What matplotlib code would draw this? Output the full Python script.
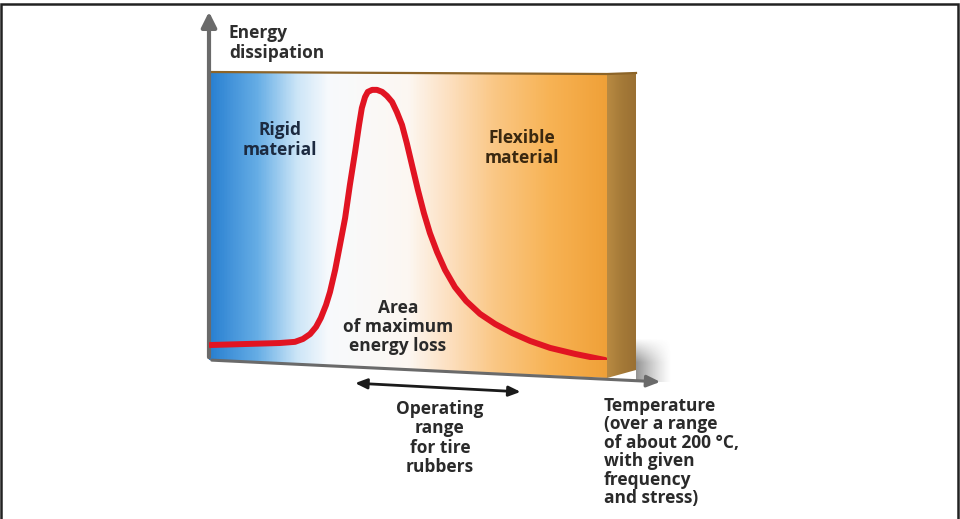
import numpy as np
import matplotlib
matplotlib.use("Agg")
from matplotlib import pyplot as plt
from matplotlib.patches import Polygon, FancyArrowPatch
from matplotlib.colors import LinearSegmentedColormap

# curve: temperature (0-100 % of range) vs energy dissipation (0-100 %)
temp = [0.3, 10.3, 17.8, 21.6, 23.6, 25.4, 26.9, 28.1, 29.4, 30.4, 31.7, 32.9,
        34.2, 35.4, 36.7, 37.7, 38.4, 39.2, 39.9, 41.0, 42.2, 43.5, 44.7, 46.0,
        47.2, 48.5, 49.7, 51.0, 52.5, 54.0, 55.5, 57.3, 59.3, 61.8, 64.6, 68.1,
        71.9, 76.1, 80.7, 85.7, 92.0, 99.5]
dissipation = [5.2, 5.6, 5.9, 6.3, 7.3, 9.0, 11.5, 14.6, 19.1, 23.6, 31.3, 39.9,
               49.3, 60.8, 72.2, 81.6, 87.5, 91.3, 93.1, 93.8, 93.8, 93.1, 91.7, 89.6,
               86.1, 81.6, 75.3, 67.7, 59.0, 51.0, 44.1, 37.5, 31.3, 25.3, 20.5, 16.0,
               12.5, 9.4, 6.6, 4.2, 2.1, 0.0]

# operating range of tire rubbers (same temperature units)
op_range = [36.0, 79.0]

y_label = "Energy\ndissipation"
x_label = "Temperature\n(over a range\nof about 200 °C,\nwith given\nfrequency\nand stress)"
rigid_label = "Rigid\nmaterial"
flex_label = "Flexible\nmaterial"
area_label = "Area\nof maximum\nenergy loss"
op_label = "Operating\nrange\nfor tire\nrubbers"

W, H = 960, 519
FACE_L, FACE_R, FACE_T, FACE_B = 209, 607, 72, 360

fig = plt.figure(figsize=(W / 100, H / 100), dpi=100)
fig.patch.set_facecolor("white")
ax = fig.add_axes([0, 0, 1, 1])
ax.set_xlim(0, W)
ax.set_ylim(H, 0)
ax.axis("off")

font = dict(family=["Open Sans", "DejaVu Sans"], fontweight="bold", fontsize=12.5)

# frame
ax.plot([1, 1, 958, 958], [H, 4, 4, H], color="#222222", lw=1.8, solid_joinstyle="miter")

# soft shadow next to the box
xs = np.linspace(0, 1, 60)
ys = np.linspace(0, 1, 40)
gx, gy = np.meshgrid(xs, ys)
shadow = np.zeros((40, 60, 4))
shadow[..., :3] = 0.3
shadow[..., 3] = 0.6 * (1 - gx) ** 1.3 * np.clip(gy * 1.8, 0, 1)
ax.imshow(shadow, extent=[636, 672, 382, 338], aspect="auto", interpolation="bilinear", zorder=1)

# front face gradient
cmap = LinearSegmentedColormap.from_list("face", [
    (0.00, (0.16, 0.50, 0.82)),
    (0.12, (0.40, 0.68, 0.90)),
    (0.22, (0.80, 0.90, 0.97)),
    (0.30, (0.97, 0.98, 0.99)),
    (0.50, (0.99, 0.97, 0.95)),
    (0.60, (0.99, 0.88, 0.76)),
    (0.72, (0.98, 0.78, 0.52)),
    (0.86, (0.97, 0.70, 0.33)),
    (1.00, (0.94, 0.63, 0.22)),
])
grad = np.tile(np.linspace(0, 1, 400), (50, 1))
face_poly = Polygon([(FACE_L, FACE_T), (FACE_R, FACE_T + 2), (FACE_R, 378), (FACE_L, FACE_B)],
                    closed=True, fc="none", ec="none")
ax.add_patch(face_poly)
im = ax.imshow(grad, cmap=cmap, extent=[FACE_L, FACE_R, 380, FACE_T], aspect="auto",
               interpolation="bilinear", zorder=1)
im.set_clip_path(face_poly)

# side face
side_cmap = LinearSegmentedColormap.from_list("side", ["#b88a42", "#a57a38", "#9a7033"])
side_poly = Polygon([(FACE_R, FACE_T + 2), (636, 73), (636, 370), (FACE_R, 378)],
                    closed=True, fc="none", ec="none")
ax.add_patch(side_poly)
im2 = ax.imshow(np.tile(np.linspace(0, 1, 30), (10, 1)), cmap=side_cmap,
                extent=[FACE_R, 636, 380, 72], aspect="auto", zorder=1)
im2.set_clip_path(side_poly)
ax.plot([FACE_L, FACE_R, 636], [FACE_T, FACE_T + 2, 73], color="#8c6428", lw=1.6, zorder=2)

# axes arrows
ax.add_patch(FancyArrowPatch((FACE_L, FACE_B), (FACE_L, 9),
                             arrowstyle="-|>,head_length=9,head_width=4.5",
                             color="#6a6a6a", lw=3, mutation_scale=1, zorder=3))
ax.add_patch(FancyArrowPatch((FACE_L, FACE_B), (663, 382),
                             arrowstyle="-|>,head_length=8,head_width=3.5",
                             color="#6a6a6a", lw=2.2, mutation_scale=1, zorder=3))

# curve on the front face
cax = fig.add_axes([FACE_L / W, 1 - FACE_B / H, (FACE_R - FACE_L) / W, (FACE_B - FACE_T) / H])
cax.set_xlim(0, 100)
cax.set_ylim(0, 100)
cax.axis("off")
cax.patch.set_alpha(0)
cax.plot(temp, dissipation, color="#e11422", lw=4.3, solid_capstyle="round",
         solid_joinstyle="round")

# operating range arrow (below the face, in temperature units)
x0 = FACE_L + op_range[0] / 100 * (FACE_R - FACE_L)
x1 = FACE_L + op_range[1] / 100 * (FACE_R - FACE_L)
ax.add_patch(FancyArrowPatch((x0, 383), (x1, 392), arrowstyle="<|-|>,head_length=7,head_width=3",
                             color="#1a1a1a", lw=2, mutation_scale=1, zorder=3))

# texts
ax.text(229, 43, y_label, ha="left", va="center", color="#2e2e2e", linespacing=1.1, **font)
ax.text(280, 140, rigid_label, ha="center", va="center", color="#1c2a40", linespacing=1.1, **font)
ax.text(522, 148, flex_label, ha="center", va="center", color="#3a2810", linespacing=1.1, **font)
ax.text(398, 327, area_label, ha="center", va="center", color="#2a2a2a", linespacing=1.1, **font)
ax.text(440, 438, op_label, ha="center", va="center", color="#2a2a2a", linespacing=1.1, **font)
ax.text(604, 452, x_label, ha="left", va="center", color="#2a2a2a", linespacing=1.03, **font)

fig.savefig("out.png", dpi=100, facecolor="white")
